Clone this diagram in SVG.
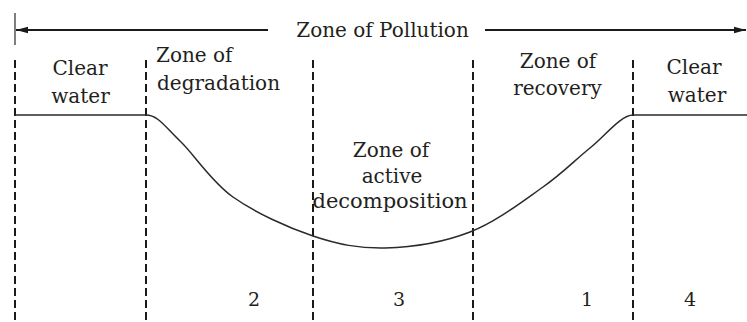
<svg xmlns="http://www.w3.org/2000/svg" width="747" height="322" viewBox="0 0 747 322">
  <style>
    text { font-family: "DejaVu Serif", serif; fill: #231f20; font-size: 20px; }
    .c { text-anchor: middle; }
    .n { font-size: 19px; text-anchor: middle; }
    .dash { stroke: #1a1a1a; stroke-width: 2; stroke-dasharray: 8 4; fill: none; }
    .arrow { stroke: #1a1a1a; stroke-width: 2; fill: none; }
    .curve { stroke: #2a2a2a; stroke-width: 1.5; fill: none; }
  </style>
  <defs>
    <marker id="ah" viewBox="0 0 12 8" refX="12" refY="4" markerWidth="12" markerHeight="8" markerUnits="userSpaceOnUse" orient="auto">
      <path d="M0,0.8 L12,4 L0,7.2 z" fill="#1a1a1a"/>
    </marker>
  </defs>
  <rect width="747" height="322" fill="#ffffff"/>

  <g id="connectors">
    <line x1="15" y1="13" x2="15" y2="45" stroke="#555" stroke-width="1.5"/>
    <line class="arrow" x1="268" y1="30" x2="16" y2="30" marker-end="url(#ah)"/>
    <line class="arrow" x1="485" y1="30" x2="746" y2="30" marker-end="url(#ah)"/>
    <line class="dash" x1="15" y1="60" x2="15" y2="322"/>
    <line class="dash" x1="146" y1="60" x2="146" y2="322"/>
    <line class="dash" x1="313" y1="60" x2="313" y2="322"/>
    <line class="dash" x1="473" y1="60" x2="473" y2="322"/>
    <line class="dash" x1="633" y1="60" x2="633" y2="322"/>
    <path class="curve" d="M15,115 H146 C158,115 165.5,127.3 180,141 C194.5,154.7 210.8,181.2 233,197 C255.2,212.8 287.7,227.5 313,236 C338.3,244.5 358.8,248.5 385,248 C411.2,247.3 443.7,242.2 470,232 C496.3,221.8 523,201 543,187 C563,173 575,160 590,148 C605,136 621,115 633,115 H747"/>
  </g>

  <g id="title">
    <text class="c" x="382.5" y="37">Zone of Pollution</text>
  </g>
  <g id="clear-water-left">
    <text class="c" x="80" y="75">Clear</text>
    <text class="c" x="80.5" y="103">water</text>
  </g>
  <g id="zone-degradation">
    <text x="156" y="62">Zone of</text>
    <text x="157" y="90">degradation</text>
    <text class="n" x="254" y="306">2</text>
  </g>
  <g id="zone-active-decomposition">
    <text class="c" x="391" y="157">Zone of</text>
    <text class="c" x="392" y="183">active</text>
    <text class="c" x="390" y="208" style="font-size:21px">decomposition</text>
    <text class="n" x="399" y="306">3</text>
  </g>
  <g id="zone-recovery">
    <text class="c" x="558" y="68">Zone of</text>
    <text class="c" x="557.5" y="95">recovery</text>
    <text class="n" x="587" y="306">1</text>
  </g>
  <g id="clear-water-right">
    <text class="c" x="694" y="74">Clear</text>
    <text class="c" x="697" y="102">water</text>
    <text class="n" x="690" y="306">4</text>
  </g>
</svg>
